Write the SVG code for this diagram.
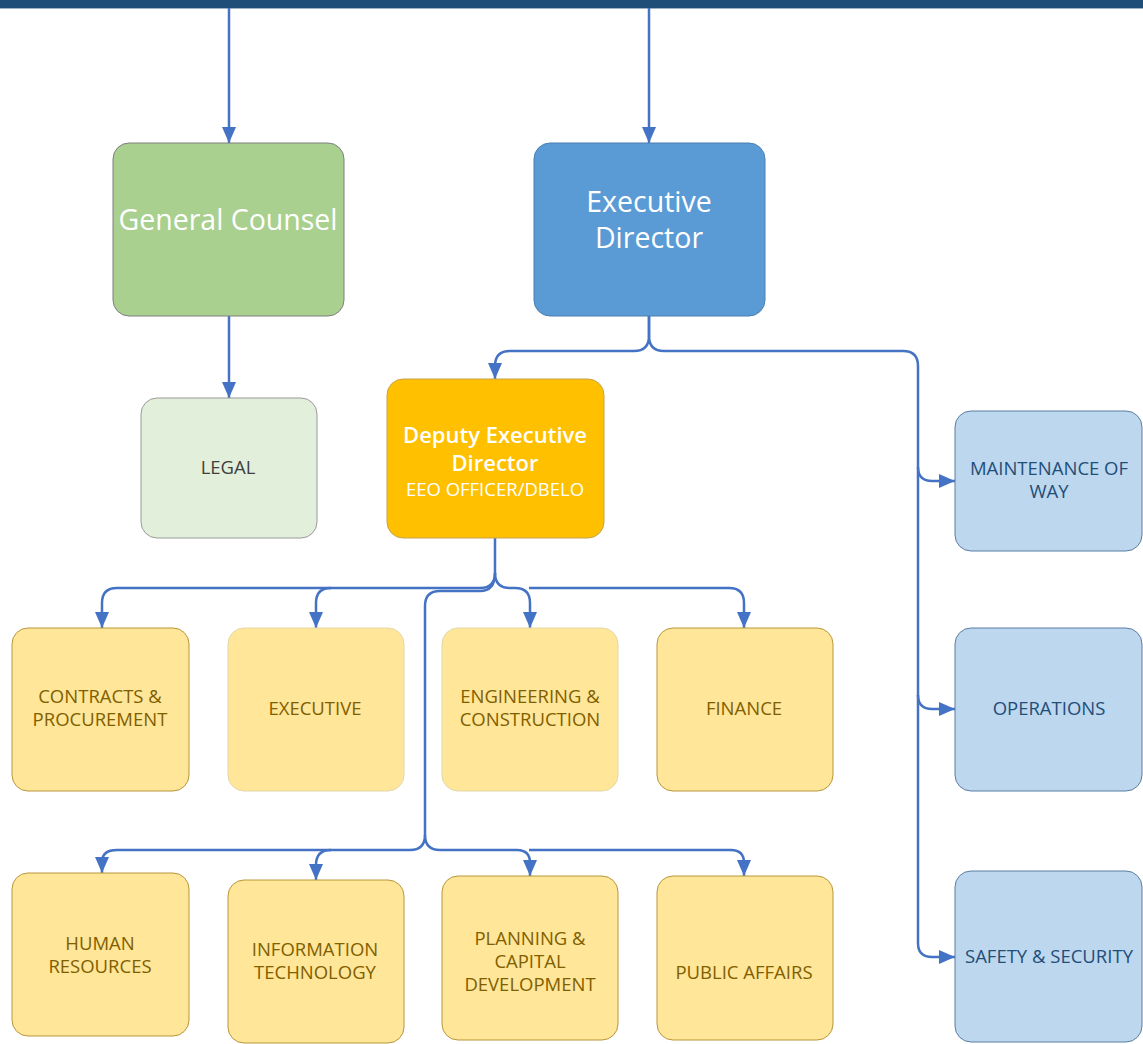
<svg xmlns="http://www.w3.org/2000/svg" width="1143" height="1044" viewBox="0 0 1143 1044">
<defs>
<marker id="ah" markerUnits="userSpaceOnUse" markerWidth="16" markerHeight="14" viewBox="0 0 16 14" refX="16" refY="7" orient="auto">
<path d="M0,0 L16,7 L0,14 Z" fill="#4472c4"/>
</marker>
<style>
text{font-family:"Open Sans","Noto Sans","Liberation Sans",sans-serif;text-anchor:middle}
.conn{fill:none;stroke:#4472c4;stroke-width:2.5}
.y rect{fill:#ffe699;stroke:#b8963a;stroke-width:1}
.y text{fill:#7f6000;font-size:18.5px}
.b rect{fill:#bdd7ee;stroke:#5b7ea3;stroke-width:1}
.b text{fill:#1f4e79;font-size:18.5px}
.big{fill:#fff;font-size:28.5px}
</style>
</defs>
<rect x="0" y="0" width="1143" height="8" fill="#1f4e79"/>
<line x1="0" y1="8.5" x2="1143" y2="8.5" stroke="#9fb3c8" stroke-width="1"/>
<g id="connectors">
<path class="conn" d="M229,8 V143" marker-end="url(#ah)"/>
<path class="conn" d="M649,8 V143" marker-end="url(#ah)"/>
<path class="conn" d="M229,316 V398" marker-end="url(#ah)"/>
<path class="conn" d="M649,316 V336 Q649,351 634,351 H510 Q495,351 495,366 V379" marker-end="url(#ah)"/>
<path class="conn" d="M649,316 V336 Q649,351 664,351 H903 Q918,351 918,366 V943 Q918,957 932,957 H955" marker-end="url(#ah)"/>
<path class="conn" d="M918,467 Q918,481 932,481 H955" marker-end="url(#ah)"/>
<path class="conn" d="M918,695 Q918,709 932,709 H955" marker-end="url(#ah)"/>
<path class="conn" d="M495,538 V573 Q495,588 480,588 H117 Q102,588 102,603 V628" marker-end="url(#ah)"/>
<path class="conn" d="M331,588 Q316,588 316,603 V628" marker-end="url(#ah)"/>
<path class="conn" d="M495,573 Q495,588 510,588 H515 Q530,588 530,603 V628" marker-end="url(#ah)"/>
<path class="conn" d="M529,588 H729 Q744,588 744,603 V628" marker-end="url(#ah)"/>
<path class="conn" d="M495,573 Q495,591 480,591 H440 Q425,591 425,606 V835 Q425,850 410,850 H117 Q102,850 102,862 V873" marker-end="url(#ah)"/>
<path class="conn" d="M331,850 Q316,850 316,865 V880" marker-end="url(#ah)"/>
<path class="conn" d="M425,835 Q425,850 440,850 H517 Q530,850 530,863 V876" marker-end="url(#ah)"/>
<path class="conn" d="M529,850 H731 Q744,850 744,863 V876" marker-end="url(#ah)"/>
</g>
<g id="general-counsel">
<rect x="113" y="143" width="231" height="173" rx="16" fill="#a9d08e" stroke="#7f7f7f" stroke-width="1"/>
<text x="228" y="230" class="big">General Counsel</text>
</g>
<g id="executive-director">
<rect x="534" y="143" width="231" height="173" rx="16" fill="#5b9bd5" stroke="#4a7fb0" stroke-width="1"/>
<text x="649" y="212" class="big">Executive</text>
<text x="649" y="248" class="big">Director</text>
</g>
<g id="legal">
<rect x="141" y="398" width="176" height="140" rx="16" fill="#e2efda" stroke="#9a9a9a" stroke-width="1"/>
<text x="228" y="474" fill="#404040" font-size="18.5">LEGAL</text>
</g>
<g id="deputy">
<rect x="387" y="379" width="217" height="159" rx="16" fill="#ffc000" stroke="#c9a24a" stroke-width="1"/>
<text x="495" y="443" fill="#fff" font-size="22" font-weight="600">Deputy Executive</text>
<text x="495" y="471" fill="#fff" font-size="22" font-weight="600">Director</text>
<text x="495" y="496" fill="#fff" font-size="18.5">EEO OFFICER/DBELO</text>
</g>
<g id="contracts" class="y">
<rect x="12" y="628" width="177" height="163" rx="16"/>
<text x="100" y="703">CONTRACTS &amp;</text>
<text x="100" y="726">PROCUREMENT</text>
</g>
<g id="executive" class="y">
<rect x="228" y="628" width="176" height="163" rx="16" style="stroke:#e3d7a8"/>
<text x="315" y="715">EXECUTIVE</text>
</g>
<g id="engineering" class="y">
<rect x="442" y="628" width="176" height="163" rx="16" style="stroke:#e3d7a8"/>
<text x="530" y="703">ENGINEERING &amp;</text>
<text x="530" y="726">CONSTRUCTION</text>
</g>
<g id="finance" class="y">
<rect x="657" y="628" width="176" height="163" rx="16"/>
<text x="744" y="715">FINANCE</text>
</g>
<g id="human-resources" class="y">
<rect x="12" y="873" width="177" height="163" rx="16"/>
<text x="100" y="950">HUMAN</text>
<text x="100" y="973">RESOURCES</text>
</g>
<g id="information-technology" class="y">
<rect x="228" y="880" width="176" height="163" rx="16"/>
<text x="315" y="956">INFORMATION</text>
<text x="315" y="979">TECHNOLOGY</text>
</g>
<g id="planning" class="y">
<rect x="442" y="876" width="176" height="164" rx="16"/>
<text x="530" y="945">PLANNING &amp;</text>
<text x="530" y="968">CAPITAL</text>
<text x="530" y="991">DEVELOPMENT</text>
</g>
<g id="public-affairs" class="y">
<rect x="657" y="876" width="176" height="164" rx="16"/>
<text x="744" y="979">PUBLIC AFFAIRS</text>
</g>
<g id="maintenance" class="b">
<rect x="955" y="411" width="187" height="140" rx="16"/>
<text x="1049" y="475">MAINTENANCE OF</text>
<text x="1049" y="498">WAY</text>
</g>
<g id="operations" class="b">
<rect x="955" y="628" width="187" height="163" rx="16"/>
<text x="1049" y="715">OPERATIONS</text>
</g>
<g id="safety" class="b">
<rect x="955" y="871" width="187" height="171" rx="16"/>
<text x="1049" y="963">SAFETY &amp; SECURITY</text>
</g>
</svg>
